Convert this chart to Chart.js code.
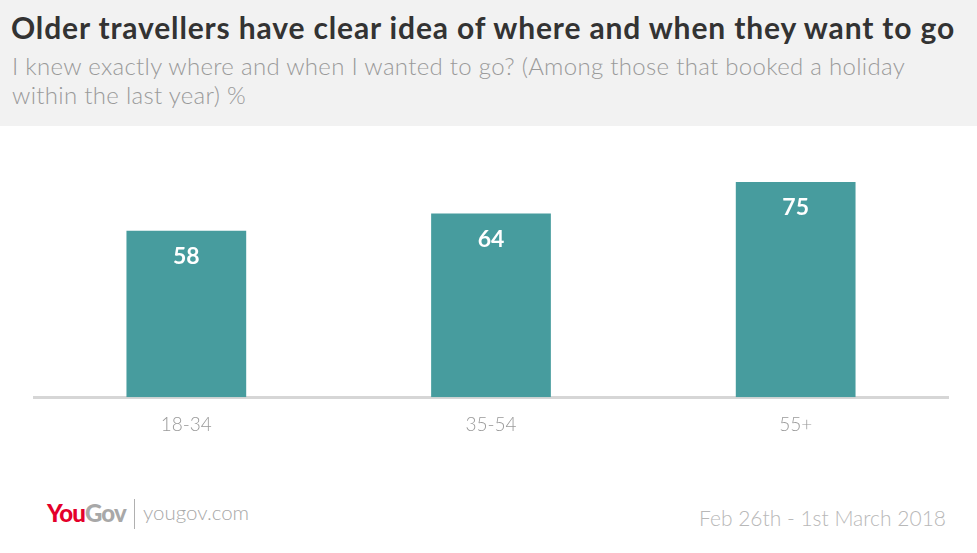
<!DOCTYPE html>
<html>
<head>
<meta charset="utf-8">
<script src="https://cdn.jsdelivr.net/npm/chart.js@4.4.1/dist/chart.umd.min.js"></script>
<style>
  html, body { margin: 0; padding: 0; width: 977px; height: 553px; overflow: hidden; background: #fff; font-family: "Lato", "Open Sans", sans-serif; }
  #header { position: absolute; left: 0; top: 0; width: 977px; height: 126px; background: #f2f2f2; }
  #title { position: absolute; left: 11px; top: 9px; font-size: 30px; font-weight: 700; color: #333; white-space: nowrap; letter-spacing: 0.85px; }
  #subtitle { position: absolute; left: 12px; top: 51px; font-size: 24px; font-weight: 300; color: #9a9a9a; line-height: 29px; width: 945px; letter-spacing: 0.3px; }
  #logo { position: absolute; left: 47px; top: 498px; font-size: 24px; font-weight: 900; letter-spacing: -0.8px; }
  #logo .you { color: #e4002b; }
  #logo .gov { color: #a8a8a8; }
  #sep { position: absolute; left: 134px; top: 499px; width: 1px; height: 30px; background: #b0b0b0; }
  #site { position: absolute; left: 143px; top: 500px; font-size: 20.5px; font-weight: 300; color: #a8a8a8; }
  #date { position: absolute; right: 31px; top: 505px; font-size: 21px; font-weight: 300; color: #b8b8b8; }
  #wrap { position: absolute; left: 0; top: 0; width: 977px; height: 553px; }
</style>
</head>
<body>
<div id="header">
  <div id="title">Older travellers have clear idea of where and when they want to go</div>
  <div id="subtitle">I knew exactly where and when I wanted to go? (Among those that booked a holiday within the last year) %</div>
</div>
<div id="logo"><span class="you">You</span><span class="gov">Gov</span></div>
<div id="sep"></div>
<div id="site">yougov.com</div>
<div id="date">Feb 26th - 1st March 2018</div>
<div id="wrap"><canvas id="c" width="977" height="553"></canvas></div>
<script>
const categories = ["18-34", "35-54", "55+"];
const values = [58, 64, 75];

const valueLabels = {
  id: "valueLabels",
  afterDatasetsDraw(chart) {
    const ctx = chart.ctx;
    const meta = chart.getDatasetMeta(0);
    ctx.save();
    ctx.fillStyle = "#ffffff";
    ctx.font = "700 23px Lato, 'Open Sans', sans-serif";
    ctx.textAlign = "center";
    ctx.textBaseline = "middle";
    meta.data.forEach((bar, i) => {
      ctx.fillText(String(values[i]), bar.x, bar.y + 26);
    });
    ctx.restore();
  }
};

new Chart(document.getElementById("c"), {
  type: "bar",
  data: {
    labels: categories,
    datasets: [{
      data: values,
      backgroundColor: "#479c9e",
      borderWidth: 0,
      categoryPercentage: 1.0,
      barPercentage: 0.393
    }]
  },
  options: {
    responsive: false,
    animation: false,
    layout: { padding: { left: 34, right: 29, top: 139, bottom: 101 } },
    plugins: { legend: { display: false }, tooltip: { enabled: false }, title: { display: false } },
    scales: {
      x: {
        grid: { display: false, drawTicks: false },
        border: { display: true, color: "#d6d6d6", width: 3 },
        ticks: { color: "#999", padding: 16, font: { family: "Lato, 'Open Sans', sans-serif", size: 19, weight: 300 } }
      },
      y: { display: false, min: 0, max: 90 }
    }
  },
  plugins: [valueLabels]
});
</script>
</body>
</html>
